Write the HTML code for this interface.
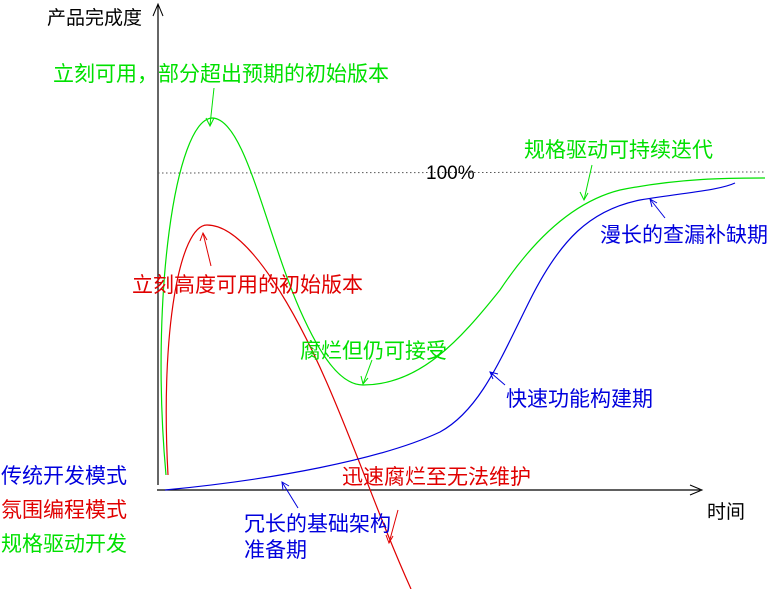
<!DOCTYPE html>
<html><head><meta charset="utf-8"><style>
body{margin:0;background:#fff;width:770px;height:589px;overflow:hidden}
svg text{font-family:"Liberation Sans","Noto Sans CJK SC",sans-serif;font-size:21px}
</style></head><body>
<svg width="770" height="589" viewBox="0 0 770 589" xmlns="http://www.w3.org/2000/svg">
<line x1="158" y1="485" x2="158" y2="5" stroke="#000" stroke-width="1.2"/>
<path d="M153,16 L158,4 L163,16" fill="none" stroke="#000"/>
<line x1="157" y1="490" x2="700" y2="490" stroke="#000" stroke-width="1.2"/>
<path d="M690,485 L702,490 L690,495" fill="none" stroke="#000"/>
<line x1="158" y1="173" x2="765" y2="172" stroke="#555" stroke-dasharray="1.5,2.5"/>
<text x="426" y="179" fill="#000" style="font-size:19px">100%</text>
<text x="47" y="24" fill="#000" style="font-size:19px">产品完成度</text>
<text x="707" y="518" fill="#000" style="font-size:19px">时间</text>
<path d="M166,475 C150,300 175,120 212,118 C245,118 265,230 300,310 C320,355 340,385 363,385 C420,385 460,340 500,290 C540,230 580,200 620,190 C680,178 730,178 765,178" fill="none" stroke="#00e000" stroke-width="1.2"/>
<path d="M168,475 C160,330 180,225 207,225 C250,225 300,320 330,390 C360,460 380,520 411,589" fill="none" stroke="#e00000" stroke-width="1.2"/>
<path d="M165,490 C270,480 380,460 440,432 C480,410 500,360 530,300 C560,240 590,210 640,200 C690,192 720,190 735,183" fill="none" stroke="#0000dd" stroke-width="1.2"/>
<g stroke="#00e000" fill="none"><line x1="214" y1="88" x2="210" y2="125"/><path d="M206,118 L210,126 L214,118"/>
<line x1="372" y1="360" x2="363" y2="384"/><path d="M361,376 L363,384 L368,378"/>
<line x1="592" y1="165" x2="584" y2="200"/><path d="M580,192 L584,200 L588,193"/></g>
<g stroke="#e00000" fill="none"><line x1="211" y1="266" x2="203" y2="233"/><path d="M200,241 L203,233 L207,240"/>
<line x1="398" y1="510" x2="389" y2="543"/><path d="M386,535 L389,543 L393,536"/></g>
<g stroke="#0000dd" fill="none"><line x1="298" y1="508" x2="282" y2="482"/><path d="M283,490 L282,482 L289,486"/>
<line x1="505" y1="385" x2="490" y2="372"/><path d="M493,379 L490,372 L498,374"/>
<line x1="665" y1="218" x2="650" y2="199"/><path d="M652,207 L650,199 L657,203"/></g>
<g fill="#00e000"><text x="53" y="81">立刻可用，部分超出预期的初始版本</text>
<text x="524" y="157">规格驱动可持续迭代</text>
<text x="300" y="358">腐烂但仍可接受</text>
<text x="1" y="551">规格驱动开发</text></g>
<g fill="#e00000"><text x="132" y="292">立刻高度可用的初始版本</text>
<text x="342" y="484">迅速腐烂至无法维护</text>
<text x="1" y="517">氛围编程模式</text></g>
<g fill="#0000dd"><text x="600" y="242">漫长的查漏补缺期</text>
<text x="506" y="406">快速功能构建期</text>
<text x="244" y="531">冗长的基础架构</text>
<text x="244" y="557">准备期</text>
<text x="1" y="483">传统开发模式</text></g>
</svg>
</body></html>
